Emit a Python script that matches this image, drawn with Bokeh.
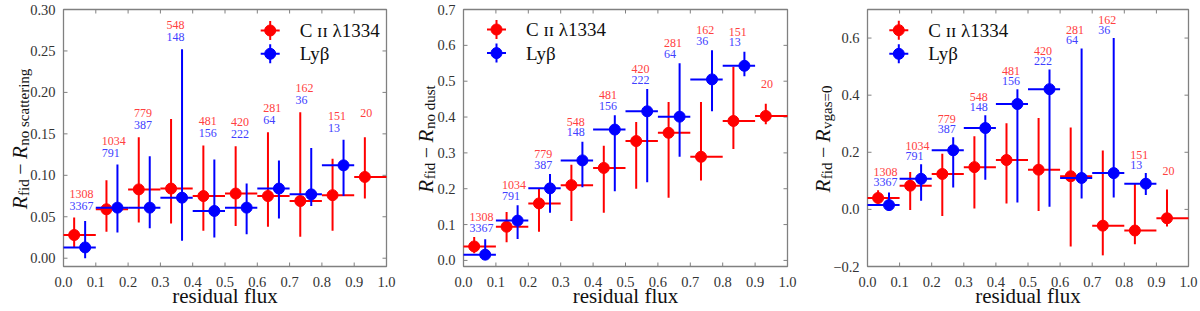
import math
from bokeh.plotting import figure
from bokeh.layouts import row
from bokeh.models import Range1d
from bokeh.core.properties import value
from bokeh.embed import file_html
from bokeh.resources import INLINE

# ---------------- data ----------------
bin_edges = [0.0, 0.1, 0.2, 0.3, 0.4, 0.5, 0.6, 0.7, 0.8, 0.9, 1.0]
x_civ = [0.033, 0.133, 0.233, 0.333, 0.433, 0.533, 0.633, 0.733, 0.833, 0.933]
x_lyb = [0.067, 0.167, 0.267, 0.367, 0.467, 0.567, 0.667, 0.767, 0.867]
n_civ = [1308, 1034, 779, 548, 481, 420, 281, 162, 151, 20]
n_lyb = [3367, 791, 387, 148, 156, 222, 64, 36, 13]

x_ticks = [0.0, 0.1, 0.2, 0.3, 0.4, 0.5, 0.6, 0.7, 0.8, 0.9, 1.0]
x_tick_labels = ["0.0", "0.1", "0.2", "0.3", "0.4", "0.5", "0.6", "0.7", "0.8", "0.9", "1.0"]

# panel 1 : R_fid - R_no scattering
p1_civ_y = [0.028, 0.059, 0.083, 0.084, 0.075, 0.078, 0.075, 0.069, 0.076, 0.098]
p1_civ_lo = [0.013, 0.032, 0.043, 0.042, 0.033, 0.039, 0.038, 0.026, 0.033, 0.072]
p1_civ_hi = [0.049, 0.094, 0.146, 0.168, 0.136, 0.135, 0.152, 0.176, 0.120, 0.146]
p1_lyb_y = [0.013, 0.061, 0.061, 0.073, 0.057, 0.061, 0.084, 0.077, 0.112]
p1_lyb_lo = [0.000, 0.031, 0.036, 0.021, 0.025, 0.029, 0.048, 0.063, 0.075]
p1_lyb_hi = [0.045, 0.113, 0.123, 0.252, 0.119, 0.090, 0.118, 0.133, 0.143]
p1_y_ticks = [0.0, 0.05, 0.1, 0.15, 0.2, 0.25, 0.3]
p1_y_tick_labels = ["0.00", "0.05", "0.10", "0.15", "0.20", "0.25", "0.30"]

# panel 2 : R_fid - R_no dust
p2_civ_y = [0.039, 0.094, 0.159, 0.210, 0.258, 0.333, 0.356, 0.289, 0.389, 0.403]
p2_civ_lo = [0.020, 0.051, 0.080, 0.110, 0.133, 0.200, 0.175, 0.223, 0.311, 0.380]
p2_civ_hi = [0.065, 0.135, 0.200, 0.267, 0.320, 0.386, 0.442, 0.442, 0.540, 0.437]
p2_lyb_y = [0.016, 0.111, 0.201, 0.279, 0.365, 0.416, 0.401, 0.505, 0.543]
p2_lyb_lo = [0.002, 0.060, 0.133, 0.204, 0.193, 0.218, 0.289, 0.416, 0.514]
p2_lyb_hi = [0.059, 0.154, 0.241, 0.331, 0.405, 0.478, 0.550, 0.586, 0.582]
p2_y_ticks = [0.0, 0.1, 0.2, 0.3, 0.4, 0.5, 0.6, 0.7]
p2_y_tick_labels = ["0.0", "0.1", "0.2", "0.3", "0.4", "0.5", "0.6", "0.7"]

# panel 3 : R_fid - R_vgas=0
p3_civ_y = [0.040, 0.083, 0.124, 0.148, 0.173, 0.139, 0.116, -0.057, -0.074, -0.031]
p3_civ_lo = [0.021, -0.002, -0.023, 0.003, 0.021, -0.006, -0.130, -0.161, -0.122, -0.060]
p3_civ_hi = [0.067, 0.131, 0.195, 0.256, 0.302, 0.320, 0.287, 0.206, 0.090, 0.070]
p3_lyb_y = [0.015, 0.107, 0.207, 0.285, 0.369, 0.421, 0.110, 0.127, 0.090]
p3_lyb_lo = [0.000, 0.030, 0.077, 0.104, 0.024, 0.009, 0.038, 0.042, 0.050]
p3_lyb_hi = [0.059, 0.158, 0.253, 0.330, 0.421, 0.490, 0.563, 0.600, 0.127]
p3_y_ticks = [-0.2, 0.0, 0.2, 0.4, 0.6]
p3_y_tick_labels = ["\u22120.2", "0.0", "0.2", "0.4", "0.6"]

legend_labels = ["C \u026a\u026a \u03bb1334", "Ly\u03b2"]
x_label = "residual flux"
y_label_subs = ["no scattering", "no dust", "vgas=0"]

# ---------------- style / layout ----------------
FONT = "Liberation Serif"
RED, BLUE = "#ff0000", "#0000ff"
RED_TXT, BLUE_TXT = "#ff4040", "#4040ff"
GRAY = "#808080"
TXT = "#111111"
H = 310
T_PX, B_PX = 9, 266      # top / bottom of the axes box, px from the top
TICK = 4                 # inward tick length, px

# approximate advance widths (em) of Liberation Serif
EM = {"f": .333, "i": .278, "d": .5, "n": .5, "o": .5, " ": .25, "s": .389, "c": .444,
      "a": .444, "t": .278, "e": .444, "r": .333, "g": .5, "u": .5, "v": .5, "=": .564,
      "0": .5, "\u2212": .564, "R": .611}


def text_w(s, size):
    return sum(EM.get(c, .5) for c in s) * size


def make_panel(yr, yt, ytl, cy, clo, chi, ly, llo, lhi, sub, lab_off, ylab_base, leg, L, fw, W):
    ux = 1.0 / fw                          # data units per px (x)
    k = (yr[1] - yr[0]) / (B_PX - T_PX)    # data units per px (y)
    x0, x1 = x_ticks[0], x_ticks[-1]
    # the whole figure is the drawing frame; the axes box sits at px [L, L+fw] x [T_PX, B_PX]
    p = figure(width=W, height=H,
               x_range=Range1d(x0 - L * ux, x0 + (W - L) * ux),
               y_range=Range1d(yr[1] - (H - T_PX) * k, yr[1] + T_PX * k),
               min_border_left=0, min_border_right=0, min_border_top=0, min_border_bottom=0,
               x_axis_type=None, y_axis_type=None, output_backend="svg",
               toolbar_location=None, tools="")
    p.outline_line_color = None
    p.background_fill_color = "white"
    p.border_fill_color = "white"

    def gx(px):
        return x0 + (px - L) * ux

    def gy(py):
        return yr[1] - (py - T_PX) * k

    # axes box and inward ticks on all four sides
    p.quad(left=[x0], right=[x1], bottom=[yr[0]], top=[yr[1]], fill_color=None,
           line_color=GRAY, line_width=1.3)
    n, m = len(x_ticks), len(yt)
    p.segment(x0=x_ticks, x1=x_ticks, y0=[yr[0]] * n, y1=[yr[0] + TICK * k] * n, line_color=GRAY, line_width=1)
    p.segment(x0=x_ticks, x1=x_ticks, y0=[yr[1]] * n, y1=[yr[1] - TICK * k] * n, line_color=GRAY, line_width=1)
    p.segment(x0=[x0] * m, x1=[x0 + TICK * ux] * m, y0=yt, y1=yt, line_color=GRAY, line_width=1)
    p.segment(x0=[x1] * m, x1=[x1 - TICK * ux] * m, y0=yt, y1=yt, line_color=GRAY, line_width=1)

    # tick labels
    p.text(x=[x0] * m, y=yt, text=ytl, x_offset=-8, text_align="right", text_baseline="middle",
           text_font=value(FONT), text_font_size="14.5px", text_color="#333333")
    p.text(x=x_ticks, y=[yr[0]] * n, text=x_tick_labels, y_offset=15, text_align="center",
           text_baseline="middle", text_font=value(FONT), text_font_size="14.5px", text_color="#333333")

    # x label
    p.text(x=[(x0 + x1) / 2], y=[yr[0]], text=[x_label], y_offset=29, text_align="center",
           text_baseline="middle", text_font=value(FONT), text_font_size="21px", text_color=TXT)

    # y label: R_fid - R_sub, assembled from pieces, rotated
    pieces = [("R", 21, "italic", 0, 0.0), ("fid", 15, "normal", 4, 0.5),
              ("\u2212", 20, "normal", 0, 4.5), ("R", 21, "italic", 0, 4.5),
              (sub, 15, "normal", 4, 0.5)]
    total = sum(text_w(t, s) + g for t, s, st, sh, g in pieces)
    py = (T_PX + B_PX) / 2 + 1 + total / 2
    for t, s, st, sh, g in pieces:
        py -= g
        p.text(x=[gx(ylab_base + sh)], y=[gy(py)], text=[t], angle=math.pi / 2, text_align="left",
               text_baseline="alphabetic", text_font=value(FONT), text_font_size=f"{s}px",
               text_font_style=st, text_color=TXT)
        py -= text_w(t, s)

    # data: bin-width horizontal bars, vertical error bars, points
    lo_e = bin_edges[:-1]
    hi_e = bin_edges[1:]
    for xs, ys, los, his, col in [(x_civ, cy, clo, chi, RED), (x_lyb, ly, llo, lhi, BLUE)]:
        c = len(xs)
        p.segment(x0=lo_e[:c], x1=hi_e[:c], y0=ys, y1=ys, line_color=col, line_width=2)
        p.segment(x0=xs, x1=xs, y0=los, y1=his, line_color=col, line_width=2)
        p.scatter(xs, ys, size=11, color=col)

    # count labels above each bin
    top_val = [max(chi[i], lhi[i]) if i < len(lhi) else chi[i] for i in range(len(chi))]
    p.text(x=lo_e[:len(n_civ)], y=top_val, text=[str(v) for v in n_civ], x_offset=6,
           y_offset=-lab_off[1], text_align="left", text_baseline="middle",
           text_font=value(FONT), text_font_size="12px", text_color=RED_TXT)
    p.text(x=lo_e[:len(n_lyb)], y=top_val[:len(n_lyb)], text=[str(v) for v in n_lyb], x_offset=6,
           y_offset=-lab_off[0], text_align="left", text_baseline="middle",
           text_font=value(FONT), text_font_size="12px", text_color=BLUE_TXT)

    # legend (px offsets from the axes box's top-left corner)
    lx, lys = leg
    for ly_px, col, txt in zip(lys, [RED, BLUE], legend_labels):
        cx, cyy = x0 + lx * ux, yr[1] - ly_px * k
        p.segment(x0=[cx - 9.5 * ux], x1=[cx + 9.5 * ux], y0=[cyy], y1=[cyy], line_color=col, line_width=2)
        p.segment(x0=[cx], x1=[cx], y0=[cyy - 9.5 * k], y1=[cyy + 9.5 * k], line_color=col, line_width=2)
        p.scatter([cx], [cyy], size=11, color=col)
        p.text(x=[cx], y=[cyy], text=[txt], x_offset=29.5, text_align="left",
               text_baseline="middle", text_font=value(FONT), text_font_size="19px", text_color=TXT)
    return p


p1 = make_panel((-0.01, 0.30), p1_y_ticks, p1_y_tick_labels, p1_civ_y, p1_civ_lo, p1_civ_hi,
                p1_lyb_y, p1_lyb_lo, p1_lyb_hi, y_label_subs[0], (12, 24), 19.5,
                (206.7, (21, 44.3)), 63, 323, 400)
p2 = make_panel((-0.017, 0.70), p2_y_ticks, p2_y_tick_labels, p2_civ_y, p2_civ_lo, p2_civ_hi,
                p2_lyb_y, p2_lyb_lo, p2_lyb_hi, y_label_subs[1], (9.5, 20), 25,
                (33, (20, 43.6)), 63, 324, 400)
p3 = make_panel((-0.2, 0.70), p3_y_ticks, p3_y_tick_labels, p3_civ_y, p3_civ_lo, p3_civ_hi,
                p3_lyb_y, p3_lyb_lo, p3_lyb_hi, y_label_subs[2], (8.5, 18.5), 22,
                (31.3, (20.7, 44.3)), 67, 321, 398)

layout = row(p1, p2, p3)
open("out.html", "w").write(file_html(layout, INLINE))
